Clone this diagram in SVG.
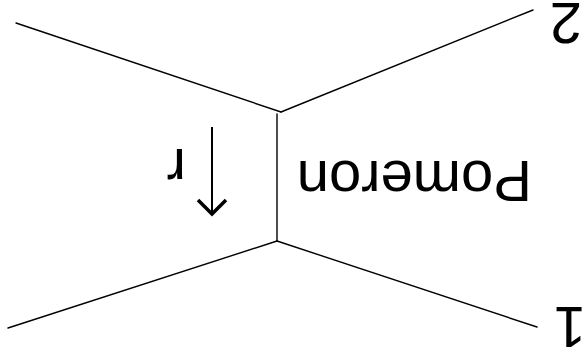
<svg xmlns="http://www.w3.org/2000/svg" width="587" height="360" viewBox="0 0 587 360">
<style>
.ln{stroke:#000;stroke-width:1.4;fill:none;stroke-linecap:round}
.lbl{font-family:"Liberation Sans",Arial,sans-serif;font-size:58px;fill:#000}
</style>
<rect width="587" height="360" fill="#fff"/>
<g id="connectors">
<line class="ln" x1="16" y1="23" x2="281" y2="112"/>
<line class="ln" x1="281" y1="112" x2="533" y2="10"/>
<line class="ln" x1="277" y1="114" x2="277" y2="241"/>
<line class="ln" x1="8" y1="328" x2="277" y2="241"/>
<line class="ln" x1="277" y1="241" x2="537" y2="327"/>
</g>
<g id="arrow-r">
<line x1="212" y1="127" x2="212" y2="212" stroke="#000" stroke-width="2"/>
<polyline points="198,200 212,214 226,200" fill="none" stroke="#000" stroke-width="3.5"/>
</g>
<g transform="rotate(180 293.5 180)">
<g id="pomeron"><text class="lbl" x="55" y="199">Pomeron</text></g>
<g id="label-1"><text class="lbl" x="1" y="53">1</text></g>
<g id="label-2"><text class="lbl" x="5" y="357">2</text></g>
<g id="label-r"><text class="lbl" x="401" y="211">r</text></g>
</g>
</svg>
